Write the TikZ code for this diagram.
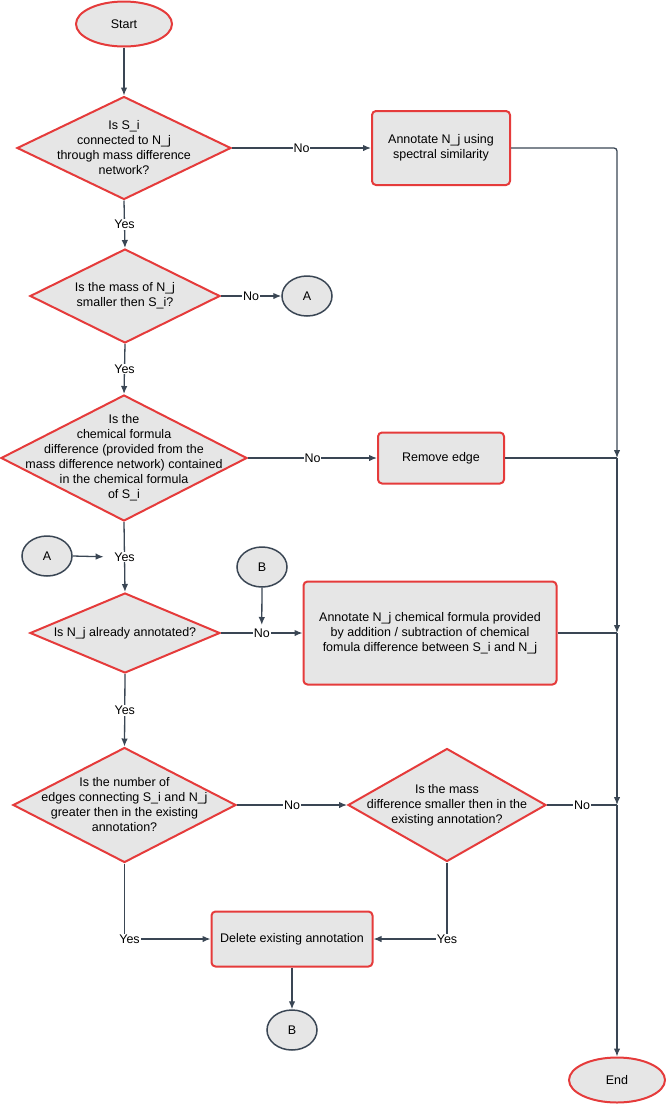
\documentclass[tikz,border=0pt]{standalone}
\usepackage{fontspec}
\setmainfont{Liberation Sans}
\usetikzlibrary{shapes.geometric, arrows.meta}

\definecolor{flowred}{HTML}{E53B3B}
\definecolor{flowgrey}{HTML}{E6E6E6}
\definecolor{flowline}{HTML}{3A4654}

\tikzset{
  terminal/.style={ellipse, draw=flowred, fill=flowgrey, line width=2pt,
    minimum width=96, minimum height=45},
  process/.style={rectangle, rounded corners=4pt, draw=flowred, fill=flowgrey,
    line width=2pt, align=center},
  decision/.style 2 args={diamond, draw=flowred, fill=flowgrey, line width=2pt,
    inner sep=0pt, minimum width=#1, minimum height=#2},
  qtext/.style={align=center},
  jump/.style={ellipse, draw=flowline, fill=flowgrey, line width=1.5pt,
    minimum width=50, minimum height=40},
  lbl/.style={fill=white, inner sep=1pt},
  flow/.style={draw=flowline, line width=1.3pt, -{Latex[length=8pt,width=6.5pt]}}
}

\begin{document}
\begin{tikzpicture}[x=1pt, y=-1pt, font=\fontsize{12.5}{15}\selectfont]

\useasboundingbox (0,0) rectangle (666,1104);

% Terminals
\node[terminal] (start) at (124,24) {Start};
\node[terminal] (end) at (617,1080) {End};

% Decisions
\node[decision={214}{103}] (d1) at (124,148) {};
\node[qtext] (d1t) at (d1) {Is S\_i\\connected to N\_j\\through mass difference\\network?};

\node[decision={190}{94}] (d2) at (125,296) {};
\node[qtext] (d2t) at (d2) {Is the mass of N\_j\\smaller then S\_i?};

\node[decision={246}{126}] (d3) at (124,458) {};
\node[qtext] (d3t) at (d3) {Is the\\chemical formula\\difference (provided from the\\mass difference network) contained\\in the chemical formula\\of S\_i};

\node[decision={190}{80}] (d4) at (125,633) {};
\node[qtext] (d4t) at (d4) {Is N\_j already annotated?};

\node[decision={223}{115}] (d5) at (124.5,805) {};
\node[qtext] (d5t) at (d5) {Is the number of\\edges connecting S\_i and N\_j\\greater then in the existing\\annotation?};

\node[decision={198}{113}] (d6) at (447,805) {};
\node[qtext] (d6t) at (d6) {Is the mass\\difference smaller then in the\\existing annotation?};

% Processes
\node[process, minimum width=138, minimum height=74] (spectral) at (441,148)
  {Annotate N\_j using\\spectral similarity};
\node[process, minimum width=126, minimum height=51] (remove) at (441,458)
  {Remove edge};
\node[process, minimum width=253, minimum height=103] (formula) at (430,633)
  {Annotate N\_j chemical formula provided\\by addition / subtraction of chemical\\fomula difference between S\_i and N\_j};
\node[process, minimum width=161, minimum height=55] (delete) at (292,939)
  {Delete existing annotation};

% Off-page connectors
\node[jump] (a1) at (307,296) {A};
\node[jump] (a2) at (47,556) {A};
\node[jump] (b1) at (262,567) {B};
\node[jump] (b2) at (292,1030) {B};

% Junctions on the right
\coordinate (j1) at (617,458);
\coordinate (j2) at (617,633);
\coordinate (j3) at (617,805);

% Main line
\draw[flow] (start) -- (d1);
\draw[flow] (d1.south) -- node[lbl] (yes1) {Yes} (d2.north);
\draw[flow] (d2.south) -- node[lbl] (yes2) {Yes} (d3.north);
\draw[flow] (d3.south) -- node[lbl] (yes3) {Yes} (d4.north);
\draw[flow] (d4.south) -- node[lbl] (yes4) {Yes} (d5.north);

% No branches
\draw[flow] (d1.east) -- node[lbl] (no1) {No} (spectral.west);
\draw[flow] (d2.east) -- node[lbl] (no2) {No} (a1.west);
\draw[flow] (d3.east) -- node[lbl] (no3) {No} (remove.west);
\draw[flow] (d4.east) -- node[lbl] (no4) {No} (formula.west);
\draw[flow] (d5.east) -- node[lbl] (no5) {No} (d6.west);

% Jumps in
\draw[flow, shorten >=9pt] (a2.east) -- (yes3.west);
\draw[flow, shorten >=2pt] (b1.south) -- (no4.north);

% Right-hand collector
\draw[flow, rounded corners=3pt] (spectral.east) -| (j1);
\draw[draw=flowline, line width=1.3pt] (remove.east) -- (j1);
\draw[flow] (j1) -- (j2);
\draw[draw=flowline, line width=1.3pt] (formula.east) -- (j2);
\draw[flow] (j2) -- (j3);
\draw[draw=flowline, line width=1.3pt] (d6.east) -- node[lbl] (no6) {No} (j3);
\draw[flow] (j3) -- (end.north);

% Delete branch
\draw[flow] (d5.south) |- node[lbl, pos=0.5, xshift=5] (yes5) {Yes} (delete.west);
\draw[flow] (d6.south) |- node[lbl, pos=0.5] (yes6) {Yes} (delete.east);
\draw[flow] (delete.south) -- (b2.north);

\end{tikzpicture}
\end{document}
